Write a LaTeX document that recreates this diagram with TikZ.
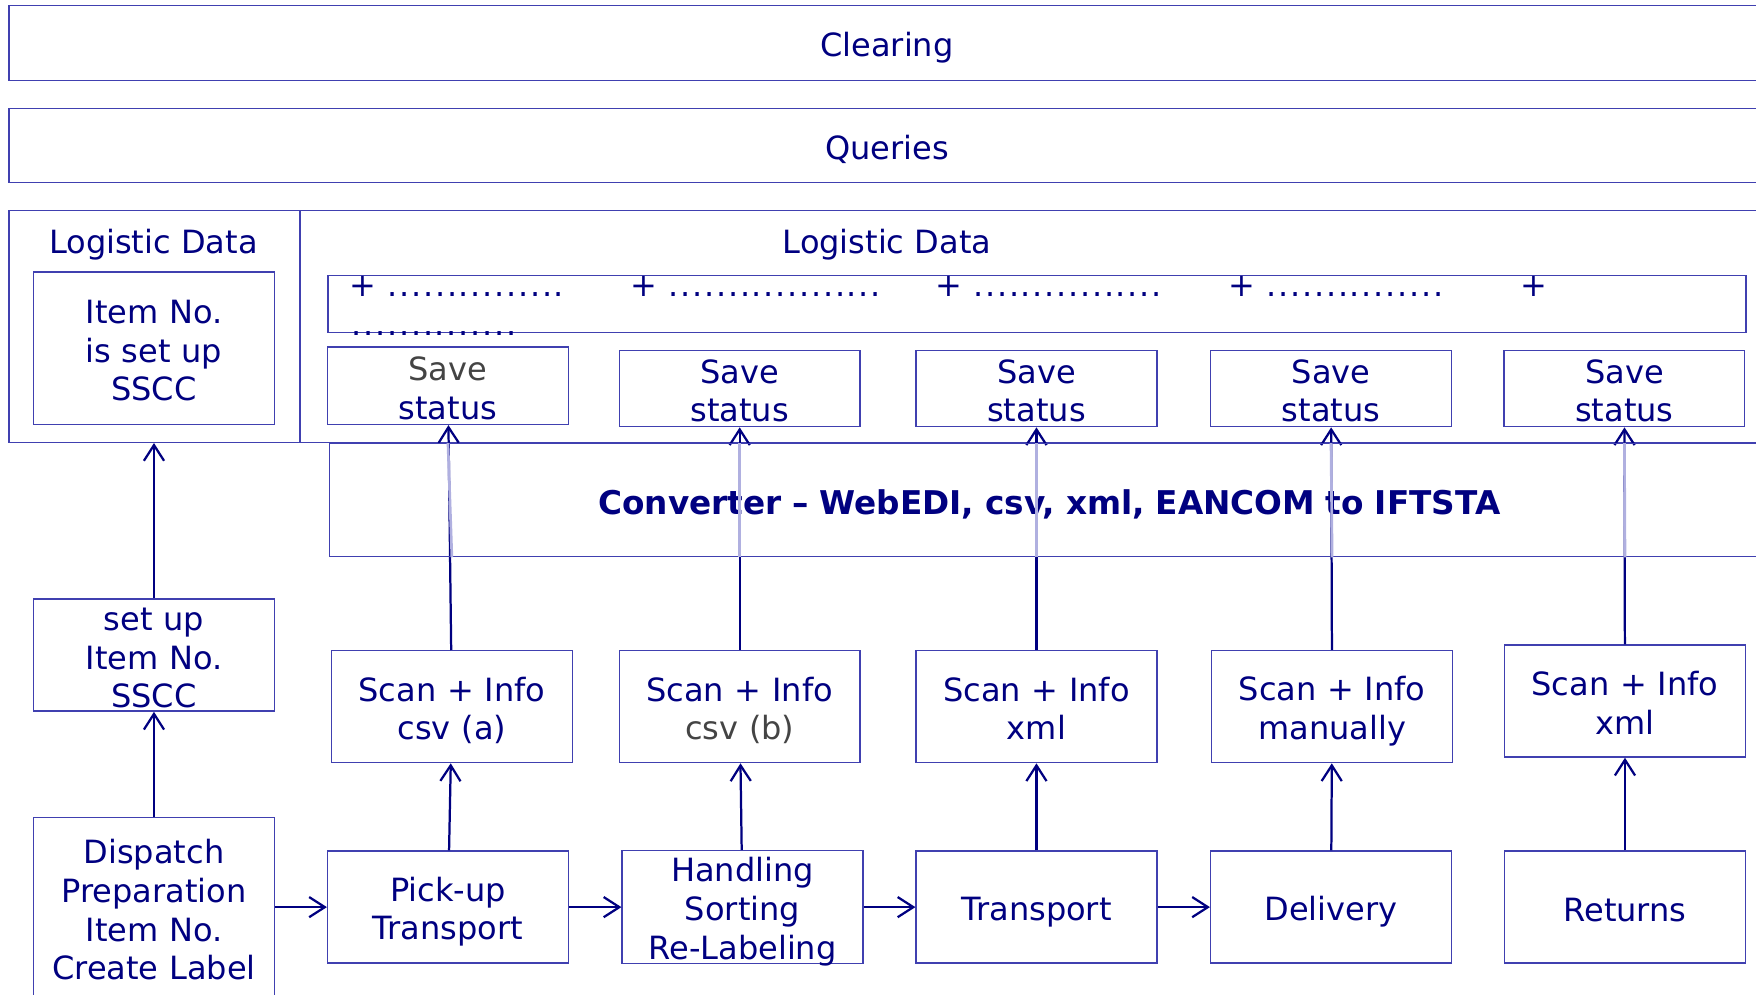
\documentclass[tikz,border=0pt]{standalone}
\usepackage{fontspec}
\setmainfont{DejaVu Sans}
\usetikzlibrary{arrows.meta}
\definecolor{navy}{RGB}{0,0,128}
\definecolor{frame}{RGB}{64,64,176}
\definecolor{veil}{RGB}{176,176,224}
\definecolor{muted}{RGB}{68,68,68}
\newcommand{\dotrun}[1]{\makebox[#1]{\leaders\hbox to 5.3pt{\hss.\hss}\hfill}}

\begin{document}
\begin{tikzpicture}[
    x=0.5pt,
    y=-0.5pt,
    >={Straight Barb[length=7pt,width=9pt]},
    every node/.style={text=navy, font=\fontsize{14.3}{17.25}\selectfont,
        execute at begin node=\rule{0pt}{15pt},
        execute at end node=\rule[-2.5pt]{0pt}{2.5pt}},
    box/.style={draw=frame, line width=0.6pt, align=center, inner sep=0pt},
    lane/.style={box, text width=784pt, minimum height=33.5pt},
    stepbox/.style={box, text width=107.5pt, minimum height=50pt},
    tallstep/.style={stepbox, inner ysep=-1pt},
    savebox/.style={box, text width=107.5pt, minimum height=34pt, inner ysep=-0.4pt},
    dotline/.style={anchor=base west, inner sep=0pt},
    flow/.style={->, draw=navy, line width=1pt},
    veilline/.style={draw=veil, line width=1.2pt}
]
    \clip (0,0) rectangle (1568,888);

    \node[lane] (clearing) at (792,38.5) {Clearing};
    \node[lane, minimum height=33pt] (queries) at (792,130) {Queries};

    \node[box, minimum width=130pt, minimum height=103.5pt] (logL) at (138,291.5) {};
    \node[box, minimum width=666pt, minimum height=103.5pt] (logR) at (934,291.5) {};
    \node (logLtitle) at (137,214) {Logistic Data};
    \node (logRtitle) at (792,214) {Logistic Data};

    \node[box, text width=107.5pt, minimum height=68pt] (itemset) at (137.5,311) {Item No.\\is set up\\SSCC};

    \node[box, minimum width=633pt, minimum height=25.5pt] (dotbox) at (926,271.5) {};
    \node[dotline] (dots1) at (312,265) {+ \dotrun{81pt}};
    \node[dotline] (dots2) at (563,265) {+ \dotrun{96pt}};
    \node[dotline] (dots3) at (835,265) {+ \dotrun{90pt}};
    \node[dotline] (dots4) at (1097,265) {+ \dotrun{80pt}};
    \node[dotline] (dots5) at (1357,265) {+};
    \node[dotline] (dots6) at (313,300) {\dotrun{75pt}};

    \node[savebox, minimum height=34.5pt] (save1) at (400,344.5) {\textcolor{muted}{Save}\\status};
    \node[savebox] (save2) at (660.5,347) {Save\\status};
    \node[savebox] (save3) at (925.5,347) {Save\\status};
    \node[savebox] (save4) at (1188.5,347) {Save\\status};
    \node[savebox] (save5) at (1450.5,347) {Save\\status};

    \node[tallstep] (setup) at (137.5,585) {set up\\Item No.\\SSCC};

    \node[stepbox] (scan1) at (403.5,631) {Scan + Info\\csv (a)};
    \node[stepbox] (scan2) at (660.5,631) {Scan + Info\\\textcolor{muted}{csv (b)}};
    \node[stepbox] (scan3) at (925.5,631) {Scan + Info\\xml};
    \node[stepbox] (scan4) at (1189.5,631) {Scan + Info\\manually};
    \node[stepbox] (scan5) at (1451,626) {Scan + Info\\xml};

    \node[stepbox, minimum height=80.5pt] (dispatch) at (137.5,810.5) {Dispatch\\Preparation\\Item No.\\Create Label};
    \node[stepbox] (pickup) at (400,810) {Pick-up\\Transport};
    \node[tallstep] (handling) at (663,810) {Handling\\Sorting\\Re-Labeling};
    \node[stepbox] (transport) at (925.5,810) {Transport};
    \node[stepbox] (delivery) at (1188.5,810) {Delivery};
    \node[stepbox] (returns) at (1451,810) {Returns};

    \draw[flow] (dispatch) -- (setup);
    \draw[flow] (setup) -- (setup.north |- logL.south);
    \draw[flow] (dispatch.east |- pickup) -- (pickup);
    \draw[flow] (pickup) -- (handling);
    \draw[flow] (handling) -- (transport);
    \draw[flow] (transport) -- (delivery);

    \draw[flow] (pickup) -- (scan1);
    \draw[flow] (handling) -- (scan2);
    \draw[flow] (transport) -- (scan3);
    \draw[flow] (delivery) -- (scan4);
    \draw[flow] (returns) -- (scan5);

    \draw[flow] (scan1) -- (save1);
    \draw[flow] (scan2) -- (save2);
    \draw[flow] (scan3) -- (save3);
    \draw[flow] (scan4) -- (save4);
    \draw[flow] (scan5) -- (save5);

    \node[box, text width=643pt, minimum height=50.5pt,
          font=\fontsize{14.6}{17.25}\selectfont\bfseries] (conv) at (937,446.5)
          {Converter -- WebEDI, csv, xml, EANCOM to IFTSTA};

    \draw[veilline] (scan1.north |- conv.south) -- (save1.south |- conv.north);
    \draw[veilline] (scan2.north |- conv.south) -- (save2.south |- conv.north);
    \draw[veilline] (scan3.north |- conv.south) -- (save3.south |- conv.north);
    \draw[veilline] (scan4.north |- conv.south) -- (save4.south |- conv.north);
    \draw[veilline] (scan5.north |- conv.south) -- (save5.south |- conv.north);
\end{tikzpicture}
\end{document}
